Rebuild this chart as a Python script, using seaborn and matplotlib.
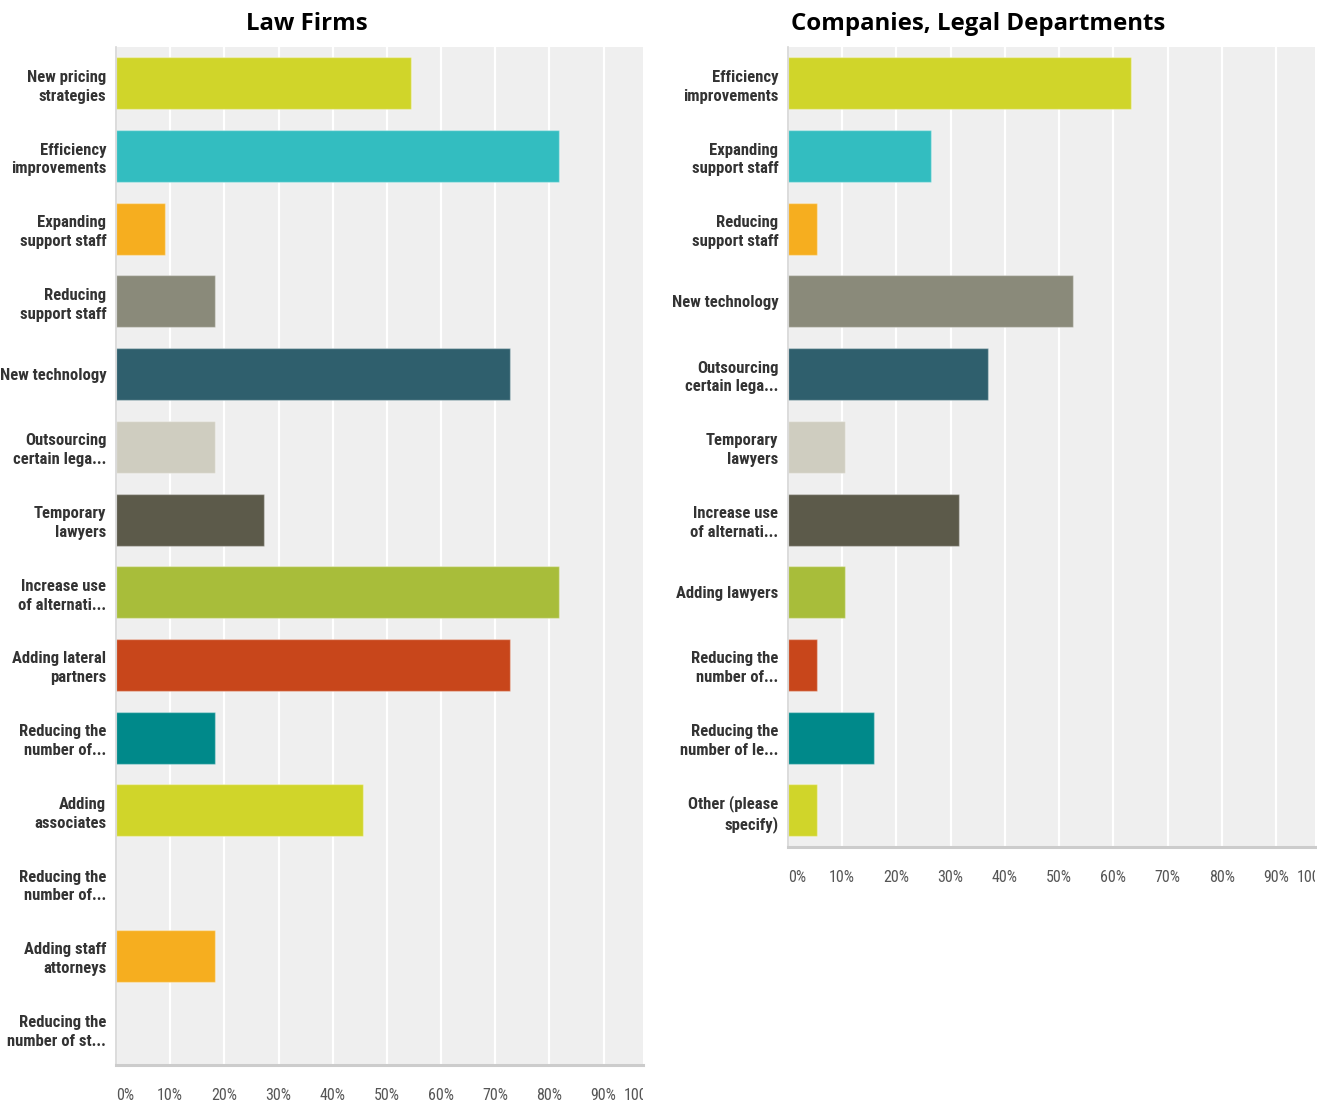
import matplotlib
matplotlib.use("Agg")
import matplotlib.pyplot as plt
from matplotlib import font_manager as fm
import seaborn as sns
import pandas as pd
from matplotlib.transforms import Bbox, TransformedBbox, offset_copy

sns.set_theme(style="white")
plt.rcParams['font.family'] = ['DejaVu Sans']

# Law firms: share of respondents (%)
law_labels = [
    "New pricing\nstrategies", "Efficiency\nimprovements", "Expanding\nsupport staff",
    "Reducing\nsupport staff", "New technology", "Outsourcing\ncertain lega...",
    "Temporary\nlawyers", "Increase use\nof alternati...", "Adding lateral\npartners",
    "Reducing the\nnumber of...", "Adding\nassociates", "Reducing the\nnumber of...",
    "Adding staff\nattorneys", "Reducing the\nnumber of st...",
]
law_values = [54.5, 81.8, 9.1, 18.2, 72.7, 18.2, 27.3, 81.8, 72.7, 18.2, 45.5, 0.0, 18.2, 0.0]

# Companies / legal departments: share of respondents (%)
corp_labels = [
    "Efficiency\nimprovements", "Expanding\nsupport staff", "Reducing\nsupport staff",
    "New technology", "Outsourcing\ncertain lega...", "Temporary\nlawyers",
    "Increase use\nof alternati...", "Adding lawyers", "Reducing the\nnumber of...",
    "Reducing the\nnumber of le...", "Other (please\nspecify)",
]
corp_values = [63.2, 26.3, 5.3, 52.6, 36.8, 10.5, 31.6, 10.5, 5.3, 15.8, 5.3]

palette_cycle = ["#d0d52a", "#33bdc0", "#f6ae1f", "#8a8a7a", "#2f5f6d",
                 "#cfcdc0", "#5c5a4a", "#a8bd3a", "#c8461b", "#00898a"]

tick_vals = list(range(0, 101, 10))
tick_text = [f"{v}%" for v in tick_vals]


def _is_condensed(f):
    s = f.stretch
    if isinstance(s, str):
        return "condensed" in s or "narrow" in s.lower()
    return s < 500


def _weight(f):
    w = f.weight
    if isinstance(w, str):
        return 700 if "bold" in w else 400
    return w


def pick_condensed(bold):
    prefs = ["Liberation Sans Narrow", "Roboto Condensed", "DejaVu Sans",
             "Noto Sans", "Open Sans", "Roboto", "Lato", "Inter"]
    found = []
    for f in fm.fontManager.ttflist:
        cond = _is_condensed(f) or "Narrow" in f.name or "Condensed" in f.name
        if not cond or f.style != "normal":
            continue
        w = _weight(f)
        if bold and w < 600:
            continue
        if not bold and w >= 600:
            continue
        rank = prefs.index(f.name) if f.name in prefs else len(prefs)
        found.append((rank, f.name, f.fname))
    if found:
        found.sort()
        return fm.FontProperties(fname=found[0][2])
    return fm.FontProperties(family="Liberation Sans",
                             weight="bold" if bold else "normal")


label_font = pick_condensed(True)
tick_font = pick_condensed(False)

W, H = 1317, 1101
fig = plt.figure(figsize=(W / 100, H / 100), dpi=100)

step_px = 72.7
top_px = 47
XMAX = 97.2
TICK_PAD = 17


def panel(left_px, right_px, labels, values, title, title_x):
    n = len(labels)
    bottom_px = top_px + n * step_px
    ax = fig.add_axes([left_px / W, 1 - bottom_px / H,
                       (right_px - left_px) / W, (bottom_px - top_px) / H])
    keys = [f"k{i}" for i in range(n)]
    df = pd.DataFrame({"key": keys, "value": values})
    colors = {k: palette_cycle[i % len(palette_cycle)] for i, k in enumerate(keys)}
    sns.barplot(data=df, x="value", y="key", hue="key", palette=colors,
                orient="h", width=0.715, legend=False, ax=ax, saturation=1,
                edgecolor=(1, 1, 1, 0.35), linewidth=1.0)
    ax.set_facecolor("#efefef")
    shown = [v for v in tick_vals if v <= XMAX]
    ax.set_xticks(shown)
    ax.set_xticklabels(tick_text[:len(shown)])
    ax.set_yticks(range(n))
    ax.set_yticklabels(labels, color="#333333", linespacing=1.32)
    ax.set_xlim(0, XMAX)
    ax.set_ylim(n - 0.5, -0.5)
    for lbl in ax.get_yticklabels():
        lbl.set_fontproperties(label_font)
        lbl.set_fontsize(12)
    ax.set_xlabel("")
    ax.set_ylabel("")
    ax.grid(axis="x", color="white", linewidth=1.6)
    ax.set_axisbelow(True)
    for s in ["top", "right"]:
        ax.spines[s].set_visible(False)
    ax.spines["left"].set_color("#d6d6d6")
    ax.spines["left"].set_linewidth(1.2)
    ax.spines["bottom"].set_color("#cccccc")
    ax.spines["bottom"].set_linewidth(2.2)
    ax.tick_params(axis="y", length=0, pad=7)
    ax.tick_params(axis="x", length=0, pad=TICK_PAD, labelcolor="#555555")
    for i, lbl in enumerate(ax.get_xticklabels()):
        lbl.set_fontproperties(tick_font)
        lbl.set_fontsize(11.5)
        if i == 0:
            lbl.set_horizontalalignment("left")
    # the end tick label is right-aligned to its tick, past the plot edge, and cut there
    clip = TransformedBbox(Bbox([[0, 0], [right_px / W, 1]]), fig.transFigure)
    trans = offset_copy(ax.get_xaxis_transform(), fig=fig, y=-TICK_PAD, units="points")
    for v, t in zip(tick_vals, tick_text):
        if v > XMAX:
            txt = ax.text(v, 0, t, transform=trans, ha="right", va="top",
                          color="#555555", fontproperties=tick_font)
            txt.set_fontsize(11.5)
            txt.set_clip_box(clip)
            txt.set_clip_on(True)
    fig.text(title_x / W, 1 - 24 / H, title, ha="center", va="center",
             fontsize=17.3, fontweight="bold", family=["Open Sans", "DejaVu Sans"],
             color="black")
    return ax


panel(116, 642.7, law_labels, law_values, "Law Firms", 307)
panel(788, 1315, corp_labels, corp_values, "Companies, Legal Departments", 978.5)

fig.savefig("out.png", dpi=100)
